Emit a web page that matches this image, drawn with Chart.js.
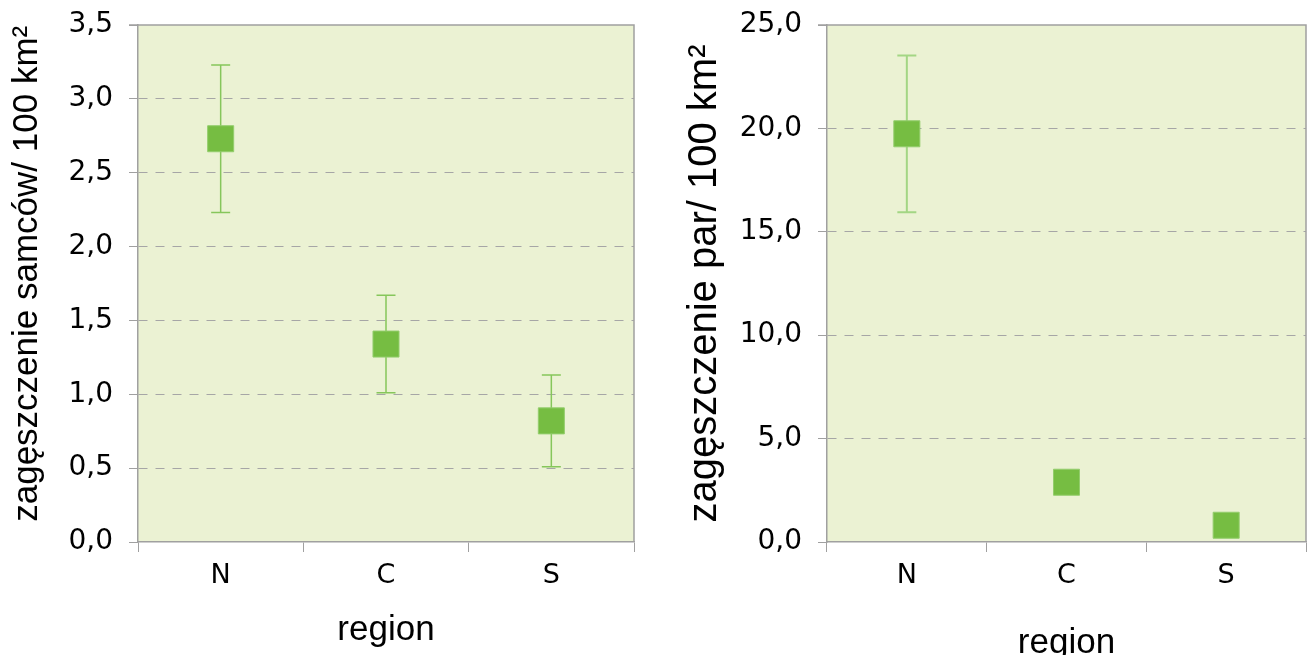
<!DOCTYPE html>
<html>
<head>
<meta charset="utf-8">
<script src="https://cdn.jsdelivr.net/npm/chart.js@4/dist/chart.umd.min.js"></script>
<style>
  html, body { margin: 0; padding: 0; background: #fff; overflow: hidden; width: 1307px; height: 655px; }
  .box { position: absolute; top: 0; }
  #males-box { left: 0; width: 660px; height: 655px; }
  #pairs-box { left: 680px; width: 627px; height: 670px; }
</style>
</head>
<body>
<div class="box" id="males-box"><canvas id="males-chart"></canvas></div>
<div class="box" id="pairs-box"><canvas id="pairs-chart"></canvas></div>
<script>
const REGIONS = ['N', 'C', 'S'];

// left panel: males / 100 km2
const MALES_MEAN = [2.73, 1.34, 0.82];
const MALES_LOW = [2.23, 1.01, 0.51];
const MALES_HIGH = [3.23, 1.67, 1.13];
const MALES_Y_MAX = 3.5;
const MALES_Y_STEP = 0.5;

// right panel: pairs / 100 km2 (only N has an error bar)
const PAIRS_MEAN = [19.74, 2.89, 0.81];
const PAIRS_LOW = [15.95, null, null];
const PAIRS_HIGH = [23.53, null, null];
const PAIRS_Y_MAX = 25;
const PAIRS_Y_STEP = 5;

const PLOT_BG = '#EBF2D3';
const FRAME = '#A0A0A0';
const GRID = '#A6A6A6';
const MARKER = '#76BD42';
const MARKER_EDGE = '#93CD6C';

const TICK_FONT = 'DejaVu Sans';
const TITLE_FONT = 'Liberation Sans';

function plotFrame(low, high, errColor, errWidth) {
  return {
    id: 'plotFrame',
    beforeDraw(chart) {
      const { ctx, chartArea: a } = chart;
      ctx.save();
      ctx.fillStyle = PLOT_BG;
      ctx.fillRect(a.left, a.top, a.width, a.height);
      ctx.restore();
    },
    beforeDatasetsDraw(chart) {
      const { ctx, chartArea: a, scales: { x, y } } = chart;
      ctx.save();
      // solid top and right edges of the plot
      ctx.strokeStyle = FRAME;
      ctx.lineWidth = 1.5;
      ctx.beginPath();
      ctx.moveTo(a.left - 9, a.top);
      ctx.lineTo(a.right, a.top);
      ctx.lineTo(a.right, a.bottom);
      ctx.stroke();
      // error bars
      ctx.strokeStyle = errColor;
      ctx.lineWidth = errWidth;
      low.forEach((lo, i) => {
        const hi = high[i];
        if (lo == null || hi == null) return;
        const px = x.getPixelForValue(i);
        const y1 = y.getPixelForValue(lo);
        const y2 = y.getPixelForValue(hi);
        ctx.beginPath();
        ctx.moveTo(px, y1);
        ctx.lineTo(px, y2);
        ctx.moveTo(px - 9.5, y1);
        ctx.lineTo(px + 9.5, y1);
        ctx.moveTo(px - 9.5, y2);
        ctx.lineTo(px + 9.5, y2);
        ctx.stroke();
      });
      ctx.restore();
    },
  };
}

function makeChart(id, cfg) {
  const ctx = document.getElementById(id).getContext('2d');
  // eslint-disable-next-line no-undef
  return new Chart(ctx, {
    type: 'line',
    data: {
      labels: REGIONS,
      datasets: [{
        data: cfg.mean,
        showLine: false,
        pointStyle: 'rect',
        pointRadius: 18.4,
        pointBackgroundColor: MARKER,
        pointBorderColor: MARKER_EDGE,
        pointBorderWidth: 1,
      }],
    },
    options: {
      responsive: true,
      maintainAspectRatio: false,
      animation: false,
      events: [],
      layout: { autoPadding: false, padding: { top: 25, right: cfg.padRight, left: 0, bottom: 0 } },
      plugins: { legend: { display: false }, tooltip: { enabled: false } },
      scales: {
        x: {
          offset: true,
          afterFit: (s) => {
            s.height = cfg.xHeight;
            s.paddingLeft = 0;
            s.paddingRight = 0;
          },
          grid: { offset: true, drawOnChartArea: false, tickLength: 10, color: FRAME, tickColor: FRAME },
          border: { color: FRAME, width: 1.5 },
          ticks: { color: '#000', padding: 8, font: { family: TICK_FONT, size: 27 } },
          title: {
            display: true,
            text: 'region',
            color: '#000',
            font: { family: TITLE_FONT, size: 35 },
            padding: { top: 0, bottom: cfg.xTitlePad },
          },
        },
        y: {
          min: 0,
          max: cfg.yMax,
          afterFit: (s) => {
            s.width = cfg.yWidth;
            s.paddingTop = 0;
            s.paddingBottom = 0;
          },
          grid: {
            tickLength: 9,
            tickColor: FRAME,
            color: (c) => (c.tick && (c.tick.value === 0 || c.tick.value === cfg.yMax) ? 'rgba(0,0,0,0)' : GRID),
          },
          border: { color: FRAME, width: 1.5, dash: [9, 8] },
          ticks: {
            stepSize: cfg.yStep,
            color: '#000',
            padding: 16,
            font: { family: TICK_FONT, size: 28 },
            callback: (v) => v.toFixed(1).replace('.', ','),
          },
          title: {
            display: true,
            text: cfg.yTitle,
            color: '#000',
            font: { family: TITLE_FONT, size: cfg.yTitleSize },
            padding: { top: cfg.yTitlePad, bottom: 0 },
          },
        },
      },
    },
    plugins: [plotFrame(cfg.low, cfg.high, cfg.errColor, cfg.errWidth)],
  });
}

makeChart('males-chart', {
  mean: MALES_MEAN, low: MALES_LOW, high: MALES_HIGH,
  yMax: MALES_Y_MAX, yStep: MALES_Y_STEP,
  yTitle: '  zagęszczenie samców/ 100 km²', yTitleSize: 35,
  yWidth: 138, padRight: 26, xHeight: 113, xTitlePad: 4, yTitlePad: 6,
  errColor: '#86C65B', errWidth: 1.5,
});

makeChart('pairs-chart', {
  mean: PAIRS_MEAN, low: PAIRS_LOW, high: PAIRS_HIGH,
  yMax: PAIRS_Y_MAX, yStep: PAIRS_Y_STEP,
  yTitle: 'zagęszczenie par/ 100 km²', yTitleSize: 40,
  yWidth: 147, padRight: 1, xHeight: 128, xTitlePad: 6, yTitlePad: 1,
  errColor: '#A3D684', errWidth: 2,
});
</script>
</body>
</html>
